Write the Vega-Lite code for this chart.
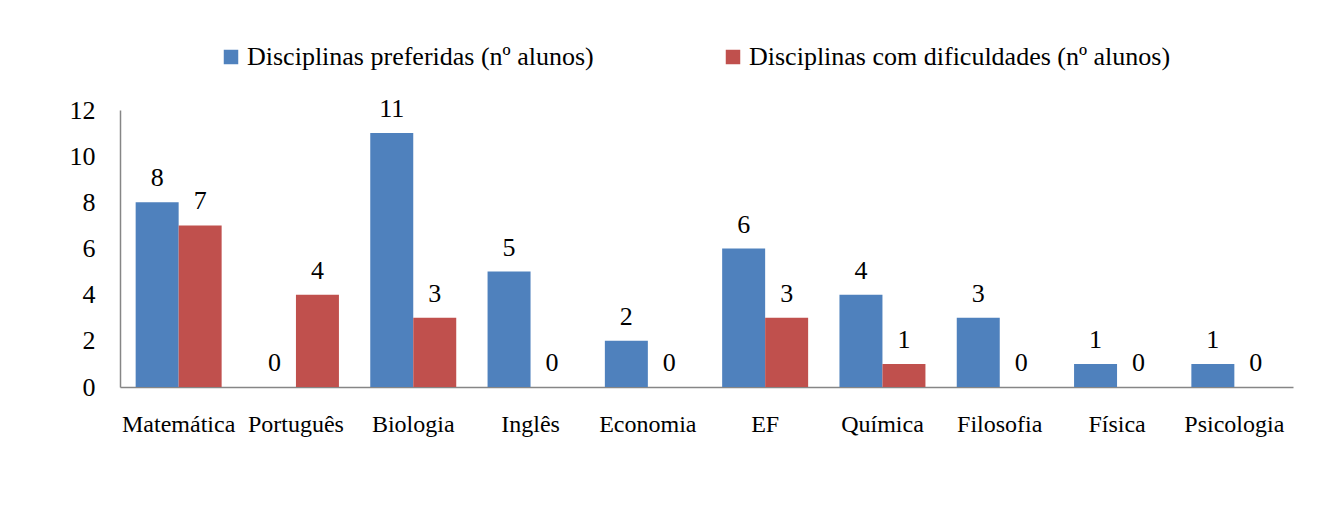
{
  "$schema": "https://vega.github.io/schema/vega-lite/v6.json",
  "width": 1173,
  "height": 277,
  "autosize": "none",
  "padding": {"left": 120, "top": 110, "right": 29, "bottom": 132},
  "background": "white",
  "config": {
    "font": "Liberation Serif, Times New Roman, serif",
    "view": {"stroke": null},
    "axis": {"labelFont": "Liberation Serif, Times New Roman, serif", "labelColor": "#000000", "domainColor": "#868686", "domainWidth": 1.5, "ticks": false, "grid": false, "title": null},
    "legend": {"labelFont": "Liberation Serif, Times New Roman, serif", "labelColor": "#000000"}
  },
  "data": {
    "values": [
      {"disciplina": "Matemática", "serie": "Disciplinas preferidas (nº alunos)", "valor": 8},
      {"disciplina": "Matemática", "serie": "Disciplinas com dificuldades (nº alunos)", "valor": 7},
      {"disciplina": "Português", "serie": "Disciplinas preferidas (nº alunos)", "valor": 0},
      {"disciplina": "Português", "serie": "Disciplinas com dificuldades (nº alunos)", "valor": 4},
      {"disciplina": "Biologia", "serie": "Disciplinas preferidas (nº alunos)", "valor": 11},
      {"disciplina": "Biologia", "serie": "Disciplinas com dificuldades (nº alunos)", "valor": 3},
      {"disciplina": "Inglês", "serie": "Disciplinas preferidas (nº alunos)", "valor": 5},
      {"disciplina": "Inglês", "serie": "Disciplinas com dificuldades (nº alunos)", "valor": 0},
      {"disciplina": "Economia", "serie": "Disciplinas preferidas (nº alunos)", "valor": 2},
      {"disciplina": "Economia", "serie": "Disciplinas com dificuldades (nº alunos)", "valor": 0},
      {"disciplina": "EF", "serie": "Disciplinas preferidas (nº alunos)", "valor": 6},
      {"disciplina": "EF", "serie": "Disciplinas com dificuldades (nº alunos)", "valor": 3},
      {"disciplina": "Química", "serie": "Disciplinas preferidas (nº alunos)", "valor": 4},
      {"disciplina": "Química", "serie": "Disciplinas com dificuldades (nº alunos)", "valor": 1},
      {"disciplina": "Filosofia", "serie": "Disciplinas preferidas (nº alunos)", "valor": 3},
      {"disciplina": "Filosofia", "serie": "Disciplinas com dificuldades (nº alunos)", "valor": 0},
      {"disciplina": "Física", "serie": "Disciplinas preferidas (nº alunos)", "valor": 1},
      {"disciplina": "Física", "serie": "Disciplinas com dificuldades (nº alunos)", "valor": 0},
      {"disciplina": "Psicologia", "serie": "Disciplinas preferidas (nº alunos)", "valor": 1},
      {"disciplina": "Psicologia", "serie": "Disciplinas com dificuldades (nº alunos)", "valor": 0}
    ]
  },
  "encoding": {
    "x": {
      "field": "disciplina", "type": "nominal", "sort": null,
      "scale": {"paddingInner": 0.267, "paddingOuter": 0.1335},
      "axis": {"labelAngle": 0, "labelFontSize": 24, "labelPadding": 25, "labelBaseline": "top"}
    },
    "xOffset": {
      "field": "serie", "type": "nominal",
      "sort": ["Disciplinas preferidas (nº alunos)", "Disciplinas com dificuldades (nº alunos)"],
      "scale": {"paddingInner": 0, "paddingOuter": 0}
    },
    "y": {
      "field": "valor", "type": "quantitative",
      "scale": {"domain": [0, 12], "nice": false},
      "axis": {"values": [0, 2, 4, 6, 8, 10, 12], "labelFontSize": 26, "labelPadding": 25}
    }
  },
  "layer": [
    {
      "mark": {"type": "bar"},
      "encoding": {
        "color": {
          "field": "serie", "type": "nominal",
          "sort": ["Disciplinas preferidas (nº alunos)", "Disciplinas com dificuldades (nº alunos)"],
          "scale": {"range": ["#4F81BD", "#C0504D"]},
          "legend": {
            "orient": "none", "direction": "horizontal", "title": null,
            "legendX": 98, "legendY": -66,
            "padding": 0, "symbolType": "square", "symbolSize": 210, "symbolStrokeWidth": 0,
            "labelFontSize": 26, "labelOffset": 3, "labelLimit": 0, "columnPadding": 126
          }
        }
      }
    },
    {
      "mark": {"type": "text", "baseline": "alphabetic", "dy": -16, "fontSize": 26, "font": "Liberation Serif, Times New Roman, serif", "color": "#000000"},
      "encoding": {"text": {"field": "valor", "type": "quantitative"}}
    }
  ]
}
